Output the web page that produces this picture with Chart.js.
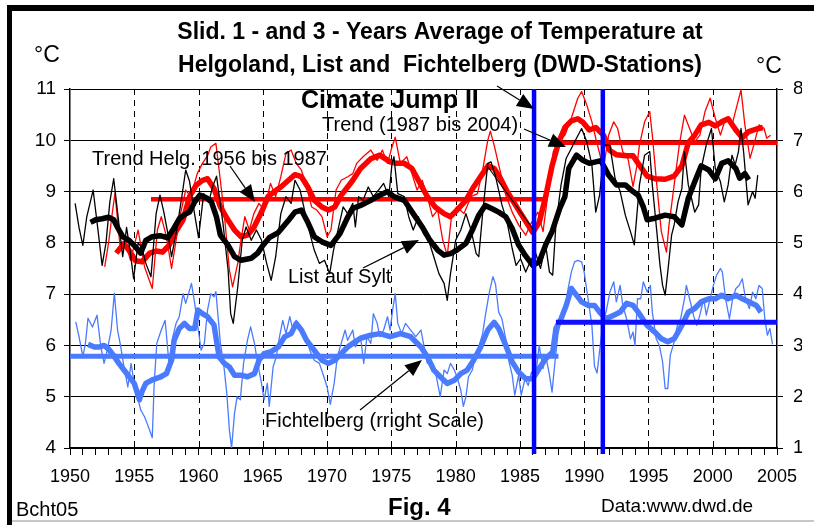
<!DOCTYPE html>
<html>
<head>
<meta charset="utf-8">
<script src="https://cdn.jsdelivr.net/npm/chart.js@4.4.1/dist/chart.umd.min.js"></script>
<style>
  html, body { margin: 0; padding: 0; background: #fff; }
  canvas { display: block; }
</style>
</head>
<body>
<canvas id="myChart" width="814" height="525"></canvas>
<script>
// List auf Sylt, 1-year sliding average (left scale)
const listThinYears = [1950.4,1950.7,1951.0,1951.3,1951.8,1952.2,1952.5,1952.8,1953.1,1953.4,1953.7,1954.1,1954.4,1954.7,1954.95,1955.3,1955.6,1955.9,1956.3,1956.7,1957.0,1957.3,1957.6,1957.9,1958.3,1958.7,1959.0,1959.3,1959.6,1960.0,1960.4,1960.8,1961.1,1961.4,1961.9,1962.3,1962.5,1962.7,1963.05,1963.4,1963.7,1964.1,1964.5,1964.9,1965.3,1965.65,1966.0,1966.4,1966.8,1967.2,1967.5,1967.9,1968.3,1968.6,1969.0,1969.4,1969.8,1970.2,1970.5,1970.9,1971.25,1971.6,1972.0,1972.2,1972.45,1972.8,1973.2,1973.6,1974.0,1974.4,1974.8,1975.05,1975.2,1975.5,1976.0,1976.35,1976.7,1977.1,1977.5,1977.9,1978.3,1978.7,1979.1,1979.35,1979.6,1980.0,1980.4,1980.8,1981.2,1981.6,1981.8,1982.1,1982.5,1982.75,1983.1,1983.6,1984.0,1984.4,1984.7,1985.05,1985.45,1985.8,1986.2,1986.6,1987.0,1987.3,1987.55,1987.8,1988.2,1988.6,1989.0,1989.4,1989.8,1990.2,1990.6,1990.9,1991.2,1991.6,1992.0,1992.4,1992.8,1993.2,1993.6,1993.9,1994.3,1994.7,1995.1,1995.3,1995.6,1995.9,1996.1,1996.3,1996.5,1996.8,1997.0,1997.3,1997.6,1997.8,1998.1,1998.35,1998.6,1998.9,1999.1,1999.5,1999.9,2000.2,2000.6,2000.9,2001.2,2001.5,2001.75,2002.0,2002.2,2002.4,2002.75,2003.1,2003.3,2003.5];
const listThinVals = [8.77,8.3,7.95,8.5,9.03,8.2,7.56,8.0,8.8,9.25,8.6,7.73,8.3,7.8,7.3,8.0,7.9,7.6,7.34,8.57,8.93,8.6,8.2,7.73,8.25,8.9,9.42,9.2,8.7,8.1,8.96,8.8,9.1,9.3,8.38,7.47,6.62,6.43,7.14,8.05,8.31,8.05,8.25,8.05,7.6,7.27,7.73,8.57,8.9,8.77,9.22,9.03,8.57,8.25,7.86,7.6,7.66,7.4,7.86,8.31,8.7,8.57,8.77,8.31,8.9,8.83,9.09,8.9,9.03,9.16,8.9,9.55,9.68,8.96,8.9,8.51,8.25,8.51,8.18,8.05,7.73,7.4,7.21,6.88,7.4,8.05,8.25,8.57,8.25,7.79,7.73,8.57,9.55,9.58,9.3,8.74,8.41,7.89,7.56,7.69,7.43,7.63,7.82,7.5,7.96,7.43,7.37,8.35,9.13,9.65,9.84,10.04,10.23,9.97,9.52,8.6,8.93,9.91,9.9,9.26,9.0,8.54,8.22,7.96,9.13,9.71,9.78,9.13,8.35,7.56,7.17,6.98,7.43,8.15,8.35,8.8,9.06,9.78,9.13,8.87,8.6,8.74,9.45,9.91,10.23,9.45,9.19,8.8,9.13,9.71,9.52,9.78,10.23,9.78,8.74,9.0,8.87,9.32];

// List auf Sylt, 3-year sliding average (left scale)
const listThickYears = [1951.6,1952.0,1952.5,1953.0,1953.4,1953.7,1954.1,1954.6,1955.1,1955.5,1955.9,1956.4,1957.0,1957.6,1958.0,1958.5,1958.9,1959.3,1959.7,1960.1,1960.6,1961.0,1961.4,1961.7,1962.3,1962.8,1963.3,1964.1,1964.6,1965.0,1965.5,1966.2,1967.0,1967.5,1968.0,1968.5,1969.0,1969.6,1970.3,1971.0,1971.6,1972.0,1972.6,1973.4,1974.1,1974.7,1975.2,1976.0,1976.7,1977.4,1978.0,1978.6,1979.1,1979.6,1980.1,1980.8,1981.3,1981.8,1982.3,1982.8,1983.35,1983.9,1984.4,1984.9,1985.4,1986.0,1986.5,1987.0,1987.5,1988.1,1988.5,1988.8,1989.4,1989.9,1990.4,1990.9,1991.3,1991.9,1992.5,1993.2,1993.8,1994.2,1994.6,1994.9,1995.5,1996.3,1997.0,1997.6,1998.1,1998.6,1999.1,1999.7,2000.2,2000.7,2001.2,2001.8,2002.1,2002.5,2002.8];
const listThickVals = [8.4,8.45,8.47,8.5,8.45,8.3,8.12,8.05,7.92,7.8,8.05,8.12,8.14,8.1,8.25,8.47,8.55,8.6,8.8,8.93,8.88,8.8,8.5,8.15,7.95,7.73,7.66,7.7,7.8,7.95,8.1,8.2,8.44,8.6,8.64,8.4,8.12,8.02,7.95,8.18,8.5,8.67,8.73,8.83,8.93,9.0,8.9,8.83,8.57,8.31,8.05,7.86,7.76,7.79,7.86,7.99,8.25,8.54,8.73,8.67,8.6,8.51,8.28,7.96,7.76,7.56,7.63,7.96,8.22,8.67,8.9,9.45,9.71,9.61,9.55,9.58,9.6,9.32,9.13,9.13,9.0,8.93,8.7,8.45,8.48,8.54,8.51,8.35,8.87,9.19,9.5,9.42,9.25,9.55,9.6,9.45,9.26,9.35,9.23];

// Helgoland, 1-year sliding average (left scale)
const helgThinYears = [1952.7,1953.0,1953.3,1953.5,1953.9,1954.3,1954.7,1955.3,1955.8,1956.4,1956.8,1957.1,1957.5,1957.9,1958.3,1958.6,1959.0,1959.4,1959.9,1960.3,1960.7,1960.95,1961.35,1961.6,1962.0,1962.4,1962.65,1963.05,1963.3,1963.6,1963.95,1964.3,1964.7,1965.1,1965.6,1966.0,1966.4,1966.8,1967.2,1967.6,1968.0,1968.4,1968.8,1969.2,1969.6,1970.0,1970.3,1970.7,1971.1,1971.6,1972.0,1972.3,1972.8,1973.4,1973.9,1974.3,1974.7,1975.05,1975.3,1975.7,1976.2,1976.6,1977.0,1977.4,1977.8,1978.2,1978.6,1979.0,1979.35,1979.7,1980.1,1980.65,1981.2,1981.7,1982.1,1982.5,1982.7,1983.0,1983.35,1983.9,1984.4,1984.9,1985.45,1985.8,1986.4,1986.8,1987.2,1987.6,1988.0,1988.5,1989.0,1989.5,1989.8,1990.2,1990.6,1990.9,1991.5,1991.9,1992.3,1992.6,1993.0,1993.4,1993.8,1994.1,1994.3,1994.7,1995.1,1995.3,1995.6,1996.0,1996.4,1996.6,1997.0,1997.4,1997.8,1998.2,1998.6,1999.0,1999.4,1999.8,2000.2,2000.6,2001.0,2001.5,2001.9,2002.2,2002.5,2002.9,2003.2,2003.6,2004.0,2004.2,2004.5];
const helgThinVals = [7.53,8.0,8.6,8.97,7.92,8.05,7.66,8.25,7.53,7.11,8.25,8.51,8.12,7.5,8.12,8.57,9.03,8.9,9.35,9.55,9.7,9.87,9.94,9.42,8.57,7.47,7.14,7.6,8.05,8.51,8.25,8.57,8.77,8.64,9.16,8.9,9.29,9.74,9.81,9.55,9.42,9.09,8.7,8.64,8.51,8.12,8.25,9.03,9.22,9.29,9.35,9.55,9.68,9.81,9.61,9.81,9.55,9.87,10.06,9.55,9.68,9.35,9.03,9.22,8.9,8.51,8.64,8.05,7.75,8.57,8.7,8.57,8.9,8.96,9.42,10.0,10.18,9.9,9.52,8.93,8.6,8.35,8.15,8.35,8.6,8.22,9.0,9.78,9.97,10.1,10.43,10.82,10.95,10.69,10.36,10.04,9.45,10.1,10.36,10.23,9.78,9.65,9.1,9.5,9.91,10.36,10.56,10.1,9.26,8.22,7.82,8.35,9.13,9.91,10.49,10.23,9.97,10.1,10.56,10.82,10.43,10.1,10.43,10.3,10.69,10.98,10.3,9.65,9.91,10.3,10.23,10.04,10.1];

// Helgoland, 3-year sliding average (left scale)
const helgThickYears = [1953.6,1954.2,1954.6,1955.1,1955.6,1956.2,1956.7,1957.2,1957.7,1958.3,1958.8,1959.3,1959.8,1960.3,1960.7,1961.2,1961.7,1962.3,1962.8,1963.3,1963.8,1964.3,1964.9,1965.4,1965.9,1966.4,1967.0,1967.5,1968.0,1968.5,1969.0,1969.6,1970.1,1970.6,1971.1,1971.6,1972.0,1972.6,1973.4,1974.1,1974.9,1975.4,1976.0,1976.6,1977.1,1977.8,1978.4,1979.1,1979.6,1980.1,1980.8,1981.4,1982.1,1982.5,1983.0,1983.5,1984.0,1984.5,1985.0,1985.5,1986.0,1986.5,1987.0,1987.5,1988.0,1988.5,1989.0,1989.5,1989.9,1990.4,1990.9,1991.5,1992.0,1992.5,1993.3,1993.8,1994.2,1994.9,1995.5,1996.3,1997.0,1997.6,1998.1,1998.6,1999.1,1999.7,2000.2,2000.7,2001.2,2001.8,2002.3,2002.8,2003.4,2003.9];
const helgThickVals = [7.8,7.99,7.85,7.65,7.63,7.8,7.84,7.82,7.95,8.25,8.45,8.9,9.12,9.22,9.25,9.06,8.7,8.44,8.25,8.12,8.15,8.3,8.6,8.9,9.0,9.09,9.22,9.33,9.29,9.09,8.83,8.7,8.64,8.7,8.93,9.09,9.22,9.45,9.64,9.71,9.58,9.55,9.55,9.45,9.22,8.9,8.7,8.57,8.51,8.64,8.83,9.09,9.35,9.5,9.45,9.25,9.0,8.8,8.6,8.4,8.2,8.4,8.9,9.5,9.95,10.25,10.38,10.42,10.35,10.2,10.25,10.1,9.8,9.72,9.7,9.7,9.55,9.3,9.25,9.24,9.3,9.5,9.95,10.1,10.3,10.35,10.28,10.36,10.42,10.2,10.05,10.17,10.22,10.25];

// Fichtelberg, 1-year sliding average (right scale)
const fichThinYears = [1950.45,1950.7,1951.0,1951.2,1951.4,1951.75,1952.1,1952.4,1952.65,1952.9,1953.2,1953.45,1953.7,1953.95,1954.2,1954.5,1954.75,1955.0,1955.25,1955.5,1955.8,1956.0,1956.4,1956.55,1956.75,1957.1,1957.4,1957.7,1958.0,1958.25,1958.5,1958.8,1959.0,1959.45,1959.7,1959.95,1960.2,1960.45,1960.7,1960.95,1961.2,1961.35,1961.7,1961.95,1962.2,1962.4,1962.57,1962.8,1963.0,1963.25,1963.5,1963.8,1964.05,1964.35,1964.6,1964.9,1965.1,1965.35,1965.5,1965.8,1966.05,1966.3,1966.55,1966.8,1967.1,1967.35,1967.6,1968.0,1968.4,1968.65,1969.0,1969.4,1969.75,1970.0,1970.25,1970.55,1970.8,1971.1,1971.4,1971.6,1972.0,1972.2,1972.6,1972.85,1973.1,1973.4,1973.6,1973.9,1974.1,1974.4,1974.7,1974.9,1975.1,1975.3,1975.5,1975.8,1976.1,1976.5,1976.9,1977.3,1977.5,1977.8,1978.2,1978.5,1978.8,1979.1,1979.35,1979.6,1979.9,1980.1,1980.4,1980.6,1980.8,1981.0,1981.3,1981.55,1981.8,1982.1,1982.3,1982.6,1982.9,1983.1,1983.35,1983.6,1983.9,1984.1,1984.4,1984.6,1984.9,1985.1,1985.4,1985.65,1985.9,1986.2,1986.5,1986.8,1987.0,1987.3,1987.5,1987.7,1987.95,1988.2,1988.5,1988.7,1989.0,1989.25,1989.5,1989.8,1990.0,1990.3,1990.6,1990.8,1991.0,1991.25,1991.5,1991.7,1992.0,1992.3,1992.5,1992.8,1993.0,1993.3,1993.6,1993.8,1993.95,1994.15,1994.4,1994.6,1994.9,1995.15,1995.3,1995.6,1995.85,1996.1,1996.3,1996.5,1996.7,1997.0,1997.25,1997.5,1997.8,1997.95,1998.2,1998.5,1998.75,1999.0,1999.3,1999.5,1999.8,2000.05,2000.3,2000.6,2000.75,2001.0,2001.3,2001.55,2001.8,2002.05,2002.3,2002.55,2002.85,2003.1,2003.35,2003.6,2003.85,2004.05,2004.25,2004.45,2004.65];
const fichThinVals = [3.46,3.17,2.78,3.04,3.53,3.36,3.59,2.97,2.65,2.91,3.3,4.02,3.3,2.97,2.58,2.19,2.65,2.26,2.0,1.74,1.61,1.48,1.2,2.26,3.04,3.3,3.49,2.65,3.17,3.43,3.56,4.01,3.82,4.21,3.82,3.36,2.91,3.04,3.69,4.01,3.95,4.05,3.04,2.65,2.06,1.35,1.0,1.68,2.0,1.94,2.65,3.1,3.36,3.04,2.65,2.26,1.94,2.26,1.81,2.58,2.78,3.17,3.49,3.23,3.56,3.3,3.49,3.3,3.17,2.91,2.71,2.65,2.39,2.19,1.85,2.26,2.78,3.04,3.3,3.1,3.3,2.97,3.17,2.65,3.17,3.04,3.62,3.43,3.17,3.3,3.56,3.3,3.69,4.01,3.43,3.23,3.43,3.3,3.17,3.3,3.04,2.65,2.65,2.39,2.0,2.52,2.45,2.65,2.52,2.39,2.13,1.81,2.0,2.39,2.52,2.84,2.97,3.23,3.56,4.01,4.34,4.2,3.65,3.52,3.13,2.74,2.42,2.03,2.42,2.03,2.35,2.22,2.48,2.35,3.0,2.55,2.81,2.42,2.09,2.61,3.2,3.52,3.65,4.04,4.43,4.63,4.66,4.63,4.43,3.91,3.39,2.6,2.46,3.0,3.52,3.65,4.04,4.24,3.85,4.17,3.78,3.52,3.13,3.26,3.0,3.91,3.91,4.24,4.04,4.17,3.65,3.13,3.0,2.68,2.16,2.16,2.81,3.07,3.39,3.52,3.91,4.17,3.91,3.59,3.39,3.59,3.91,3.59,3.91,4.17,4.37,4.5,4.43,3.91,3.52,3.91,4.11,4.17,4.3,3.91,3.72,4.04,3.91,4.17,4.11,3.52,3.2,3.33,3.02];

// Fichtelberg, 3-year sliding average (right scale)
const fichThickYears = [1951.4,1951.9,1952.3,1952.65,1953.0,1953.4,1953.8,1954.2,1954.6,1955.0,1955.4,1955.6,1955.9,1956.4,1957.0,1957.5,1957.9,1958.1,1958.5,1958.9,1959.3,1959.7,1959.95,1960.3,1960.7,1961.2,1961.6,1962.0,1962.4,1962.8,1963.3,1963.8,1964.35,1964.7,1965.1,1965.65,1966.2,1966.7,1967.2,1967.6,1968.0,1968.4,1968.8,1969.2,1969.6,1970.1,1970.6,1971.1,1971.6,1972.0,1972.6,1973.4,1974.1,1974.9,1975.7,1976.5,1977.3,1977.8,1978.3,1978.8,1979.35,1979.9,1980.4,1980.9,1981.4,1981.95,1982.5,1983.0,1983.35,1983.9,1984.4,1984.9,1985.45,1986.0,1986.5,1987.0,1987.55,1987.8,1988.2,1988.6,1989.0,1989.4,1989.8,1990.3,1990.8,1991.2,1991.7,1992.3,1992.8,1993.3,1993.8,1994.2,1994.9,1995.5,1996.0,1996.5,1997.0,1997.6,1998.1,1998.6,1999.1,1999.7,2000.2,2000.7,2001.2,2001.8,2002.3,2002.8,2003.4,2003.75];
const fichThickVals = [3.02,2.97,2.97,3.0,2.93,2.8,2.65,2.52,2.39,2.26,1.94,2.1,2.26,2.33,2.38,2.45,2.71,3.1,3.33,3.43,3.33,3.33,3.69,3.62,3.56,3.4,2.78,2.65,2.58,2.42,2.42,2.39,2.45,2.71,2.84,2.88,2.97,3.17,3.23,3.43,3.3,3.1,2.97,2.84,2.71,2.65,2.71,2.84,2.97,3.04,3.14,3.2,3.23,3.17,3.23,3.17,2.97,2.78,2.52,2.39,2.26,2.32,2.45,2.52,2.71,2.97,3.3,3.45,3.33,3.0,2.68,2.48,2.35,2.35,2.55,2.74,2.87,3.33,3.52,3.78,4.11,3.98,3.85,3.78,3.78,3.65,3.52,3.59,3.65,3.82,3.78,3.65,3.39,3.26,3.13,3.07,3.13,3.39,3.65,3.72,3.85,3.91,3.91,3.98,3.91,3.98,3.91,3.85,3.78,3.65];

// trend periods [start, end] and levels
const helgTrendYears = [[1956.3, 1986.8], [1987.5, 2005]];
const helgTrendVals = [8.85, 9.95];
const fichTrendYears = [[1950, 1988], [1987.8, 2005]];
const fichTrendVals = [2.79, 3.45];

// climate jump markers
const jumpYears = [1986.1, 1991.45];
const dashYears = [1955, 1960, 1965, 1970, 1975, 1980, 1985, 1990, 1995, 2000];

const FONT = "'Liberation Sans', Arial, sans-serif";

function pts(xs, ys) { return xs.map((x, i) => ({ x: x, y: ys[i] })); }
function flat(span, v) { return [{ x: span[0], y: v }, { x: span[1], y: v }]; }

function arrow(c, x1, y1, x2, y2) {
  const a = Math.atan2(y2 - y1, x2 - x1), L = 17, W = 7;
  const bx = x2 - L * Math.cos(a), by = y2 - L * Math.sin(a);
  c.beginPath(); c.moveTo(x1, y1); c.lineTo(bx, by); c.stroke();
  c.beginPath();
  c.moveTo(x2, y2);
  c.lineTo(bx + W * Math.sin(a), by - W * Math.cos(a));
  c.lineTo(bx - W * Math.sin(a), by + W * Math.cos(a));
  c.closePath(); c.fill();
}

const decorPlugin = {
  id: 'decor',
  beforeDatasetsDraw(chart) {
    const c = chart.ctx, x = chart.scales.x, a = chart.chartArea;
    c.save();
    c.strokeStyle = '#000'; c.lineWidth = 1; c.setLineDash([6, 5]);
    dashYears.forEach(yr => {
      const px = Math.round(x.getPixelForValue(yr)) + 0.5;
      c.beginPath(); c.moveTo(px, a.top); c.lineTo(px, a.bottom); c.stroke();
    });
    c.restore();
  },
  afterDatasetsDraw(chart) {
    const c = chart.ctx, x = chart.scales.x, a = chart.chartArea;
    c.save();
    c.strokeStyle = '#0000ff'; c.lineWidth = 4.5;
    jumpYears.forEach(yr => {
      const px = x.getPixelForValue(yr);
      c.beginPath(); c.moveTo(px, a.top); c.lineTo(px, a.bottom + 6); c.stroke();
    });
    c.restore();
  },
  afterDraw(chart) {
    const c = chart.ctx;
    c.save();
    // frame
    c.fillStyle = '#000';
    c.fillRect(7, 5, 807, 6);
    c.fillRect(7, 5, 5, 520);
    c.fillStyle = '#c8c8c8';
    c.fillRect(12, 520, 802, 2);

    c.fillStyle = '#000';
    c.textBaseline = 'alphabetic';
    c.textAlign = 'center';
    c.font = 'bold 23px ' + FONT;
    c.fillText('Slid. 1 - and 3 - Years Average of Temperature at', 440, 39);
    c.fillText('Helgoland, List and  Fichtelberg (DWD-Stations)', 440, 72);

    c.textAlign = 'left';
    c.font = '23px ' + FONT;
    c.fillText('°C', 34, 62);
    c.fillText('°C', 756, 73);

    c.font = 'bold 25px ' + FONT;
    c.fillText('Cimate Jump II', 301, 108);
    c.font = '20px ' + FONT;
    c.fillText('Trend (1987 bis 2004)', 322, 131);
    c.fillText('Trend Helg. 1956 bis 1987', 92, 165);
    c.fillText('List auf Sylt', 288, 283);
    c.fillText('Fichtelberg (rright Scale)', 265, 427);

    c.fillText('Bcht05', 16, 516);
    c.font = '19px ' + FONT;
    c.fillText('Data:www.dwd.de', 601, 512);
    c.font = 'bold 24px ' + FONT;
    c.fillText('Fig. 4', 388, 515);

    c.strokeStyle = '#000'; c.fillStyle = '#000'; c.lineWidth = 1.2;
    arrow(c, 497, 86, 534, 109);
    arrow(c, 524, 129, 566, 147);
    arrow(c, 230, 166, 255, 202);
    arrow(c, 363, 268, 419, 240);
    arrow(c, 360, 410, 422, 360);
    c.beginPath(); c.moveTo(488, 167); c.lineTo(533, 229); c.stroke();
    c.restore();
  }
};

const BLUE = '#4a7bff';

const ctx = document.getElementById('myChart');
new Chart(ctx, {
  type: 'line',
  data: {
    datasets: [
      { data: pts(listThickYears, listThickVals), borderColor: '#000', borderWidth: 5.5 },
      { data: pts(listThinYears, listThinVals), borderColor: '#000', borderWidth: 1.3 },
      { data: pts(helgThickYears, helgThickVals), borderColor: '#ff0000', borderWidth: 5.5 },
      { data: pts(helgThinYears, helgThinVals), borderColor: '#ff0000', borderWidth: 1.3 },
      { data: flat(helgTrendYears[0], helgTrendVals[0]), borderColor: '#ff0000', borderWidth: 4.5 },
      { data: flat(helgTrendYears[1], helgTrendVals[1]), borderColor: '#ff0000', borderWidth: 4.5 },
      { data: flat(fichTrendYears[1], fichTrendVals[1]), borderColor: '#1010ff', borderWidth: 5, yAxisID: 'y2' },
      { data: flat(fichTrendYears[0], fichTrendVals[0]), borderColor: BLUE, borderWidth: 5, yAxisID: 'y2' },
      { data: pts(fichThickYears, fichThickVals), borderColor: BLUE, borderWidth: 5.5, yAxisID: 'y2' },
      { data: pts(fichThinYears, fichThinVals), borderColor: BLUE, borderWidth: 1.3, yAxisID: 'y2' }
    ]
  },
  options: {
    responsive: false,
    animation: false,
    devicePixelRatio: 1,
    layout: { padding: { left: 12, right: 12, top: 89, bottom: 37 } },
    elements: {
      point: { radius: 0 },
      line: { tension: 0, borderJoinStyle: 'round', borderCapStyle: 'butt', fill: false }
    },
    plugins: { legend: { display: false }, tooltip: { enabled: false }, title: { display: false } },
    scales: {
      x: {
        type: 'linear', min: 1950, max: 2005,
        afterFit: s => { s.height = 40; },
        ticks: {
          stepSize: 1, autoSkip: false, maxRotation: 0, color: '#000', padding: 11,
          font: { family: FONT, size: 18 },
          callback: v => (Math.round(v) % 5 === 0 ? String(Math.round(v)) : '')
        },
        grid: { drawOnChartArea: false, color: '#000', tickLength: 7 },
        border: { color: '#000', width: 1.5 }
      },
      y: {
        position: 'left', min: 4, max: 11,
        afterFit: s => { s.width = 58; },
        ticks: { stepSize: 1, color: '#000', padding: 8, font: { family: FONT, size: 19 } },
        grid: { color: '#000', lineWidth: 1, tickLength: 6 },
        border: { color: '#000', width: 1.5 }
      },
      y2: {
        position: 'right', min: 1, max: 8,
        afterFit: s => { s.width = 25; },
        ticks: { stepSize: 1, color: '#000', padding: 10, font: { family: FONT, size: 19 } },
        grid: { drawOnChartArea: false, color: '#000', tickLength: 6 },
        border: { color: '#000', width: 1.5 }
      }
    }
  },
  plugins: [decorPlugin]
});
</script>
</body>
</html>
